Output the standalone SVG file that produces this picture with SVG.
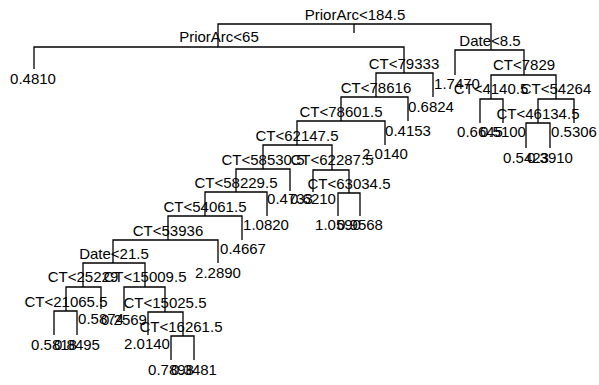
<svg xmlns="http://www.w3.org/2000/svg" width="599" height="385" viewBox="0 0 599 385">
<style>
.e{fill:none;stroke:#000;stroke-width:1.3}
text{font-family:"Liberation Sans",Arial,Helvetica,sans-serif;font-size:15px;text-anchor:middle;fill:#000}
</style>
<rect width="599" height="385" fill="#fff"/>
<g id="connectors">
<path class="e" d="M354,24V33"/>
<path class="e" d="M354,24H218V47"/>
<path class="e" d="M354,24H491V50"/>
<path class="e" d="M218,47H34V69"/>
<path class="e" d="M218,47H404V73"/>
<path class="e" d="M491,50H455V75"/>
<path class="e" d="M491,50H524V75"/>
<path class="e" d="M404,73H376V97"/>
<path class="e" d="M404,73H433V97"/>
<path class="e" d="M376,97H341V121"/>
<path class="e" d="M376,97H408V121"/>
<path class="e" d="M341,121H297V145"/>
<path class="e" d="M341,121H385V145"/>
<path class="e" d="M297,145H263V169"/>
<path class="e" d="M297,145H332V170"/>
<path class="e" d="M263,169H236V192"/>
<path class="e" d="M263,169H290V191"/>
<path class="e" d="M332,170H313V192"/>
<path class="e" d="M332,170H349V193"/>
<path class="e" d="M349,193H338V216"/>
<path class="e" d="M349,193H360V216"/>
<path class="e" d="M236,192H205V216"/>
<path class="e" d="M236,192H267V216"/>
<path class="e" d="M205,216H168V240"/>
<path class="e" d="M205,216H242V240"/>
<path class="e" d="M168,240H113V263"/>
<path class="e" d="M168,240H218V263"/>
<path class="e" d="M113,263H83V287"/>
<path class="e" d="M113,263H145V287"/>
<path class="e" d="M83,287H66V311"/>
<path class="e" d="M83,287H101V309"/>
<path class="e" d="M66,311H54V335"/>
<path class="e" d="M66,311H77V335"/>
<path class="e" d="M145,287H124V311"/>
<path class="e" d="M145,287H165V312"/>
<path class="e" d="M165,312H148V335"/>
<path class="e" d="M165,312H183V336"/>
<path class="e" d="M183,336H171V360"/>
<path class="e" d="M183,336H194V360"/>
<path class="e" d="M524,75H491V99"/>
<path class="e" d="M524,75H556V99"/>
<path class="e" d="M491,99H480V123"/>
<path class="e" d="M491,99H503V123"/>
<path class="e" d="M556,99H538V123"/>
<path class="e" d="M556,99H574V123"/>
<path class="e" d="M538,123H526V148"/>
<path class="e" d="M538,123H550V148"/>
</g>
<g id="n-root"><text x="355" y="20">PriorArc&lt;184.5</text></g>
<g id="n-priorarc65"><text x="219" y="42">PriorArc&lt;65</text></g>
<g id="leaf-0-4810"><text x="33" y="84">0.4810</text></g>
<g id="n-date8"><text x="490" y="46">Date&lt;8.5</text></g>
<g id="leaf-1-7470"><text x="457" y="89">1.7470</text></g>
<g id="n-ct79333"><text x="404" y="69">CT&lt;79333</text></g>
<g id="n-ct7829"><text x="524" y="70">CT&lt;7829</text></g>
<g id="n-ct78616"><text x="376" y="93">CT&lt;78616</text></g>
<g id="leaf-0-6824"><text x="431" y="112">0.6824</text></g>
<g id="n-ct78601"><text x="341" y="117">CT&lt;78601.5</text></g>
<g id="leaf-0-4153"><text x="408" y="136">0.4153</text></g>
<g id="n-ct62147"><text x="297" y="141">CT&lt;62147.5</text></g>
<g id="leaf-2-0140a"><text x="385" y="159">2.0140</text></g>
<g id="n-ct58530"><text x="263" y="165">CT&lt;58530.5</text></g>
<g id="n-ct62287"><text x="332" y="165">CT&lt;62287.5</text></g>
<g id="n-ct58229"><text x="236" y="188">CT&lt;58229.5</text></g>
<g id="leaf-0-4733"><text x="290" y="204">0.4733</text></g>
<g id="leaf-0-6210"><text x="313" y="204">0.6210</text></g>
<g id="n-ct63034"><text x="349" y="189">CT&lt;63034.5</text></g>
<g id="leaf-1-0590"><text x="338" y="230">1.0590</text></g>
<g id="leaf-0-9568"><text x="360" y="230">0.9568</text></g>
<g id="n-ct54061"><text x="205" y="212">CT&lt;54061.5</text></g>
<g id="leaf-1-0820"><text x="266" y="230">1.0820</text></g>
<g id="n-ct53936"><text x="168" y="236">CT&lt;53936</text></g>
<g id="leaf-0-4667"><text x="243" y="254">0.4667</text></g>
<g id="n-date21"><text x="114" y="259">Date&lt;21.5</text></g>
<g id="leaf-2-2890"><text x="218" y="278">2.2890</text></g>
<g id="n-ct25229"><text x="83" y="282">CT&lt;25229</text></g>
<g id="n-ct15009"><text x="145" y="282">CT&lt;15009.5</text></g>
<g id="n-ct21065"><text x="66" y="307">CT&lt;21065.5</text></g>
<g id="leaf-0-5874"><text x="101" y="324">0.5874</text></g>
<g id="leaf-0-2569"><text x="124" y="325">0.2569</text></g>
<g id="n-ct15025"><text x="165" y="308">CT&lt;15025.5</text></g>
<g id="leaf-0-5818"><text x="54" y="350">0.5818</text></g>
<g id="leaf-0-8495"><text x="77" y="350">0.8495</text></g>
<g id="leaf-2-0140b"><text x="147" y="349">2.0140</text></g>
<g id="n-ct16261"><text x="181" y="332">CT&lt;16261.5</text></g>
<g id="leaf-0-7898"><text x="171" y="375">0.7898</text></g>
<g id="leaf-0-3481"><text x="194" y="375">0.3481</text></g>
<g id="n-ct4140"><text x="491" y="94">CT&lt;4140.5</text></g>
<g id="n-ct54264"><text x="556" y="94">CT&lt;54264</text></g>
<g id="leaf-0-6645"><text x="480" y="137">0.6645</text></g>
<g id="leaf-0-5100"><text x="503" y="137">0.5100</text></g>
<g id="n-ct46134"><text x="538" y="119">CT&lt;46134.5</text></g>
<g id="leaf-0-5306"><text x="574" y="137">0.5306</text></g>
<g id="leaf-0-5423"><text x="526" y="163">0.5423</text></g>
<g id="leaf-0-3910"><text x="550" y="163">0.3910</text></g>
</svg>
